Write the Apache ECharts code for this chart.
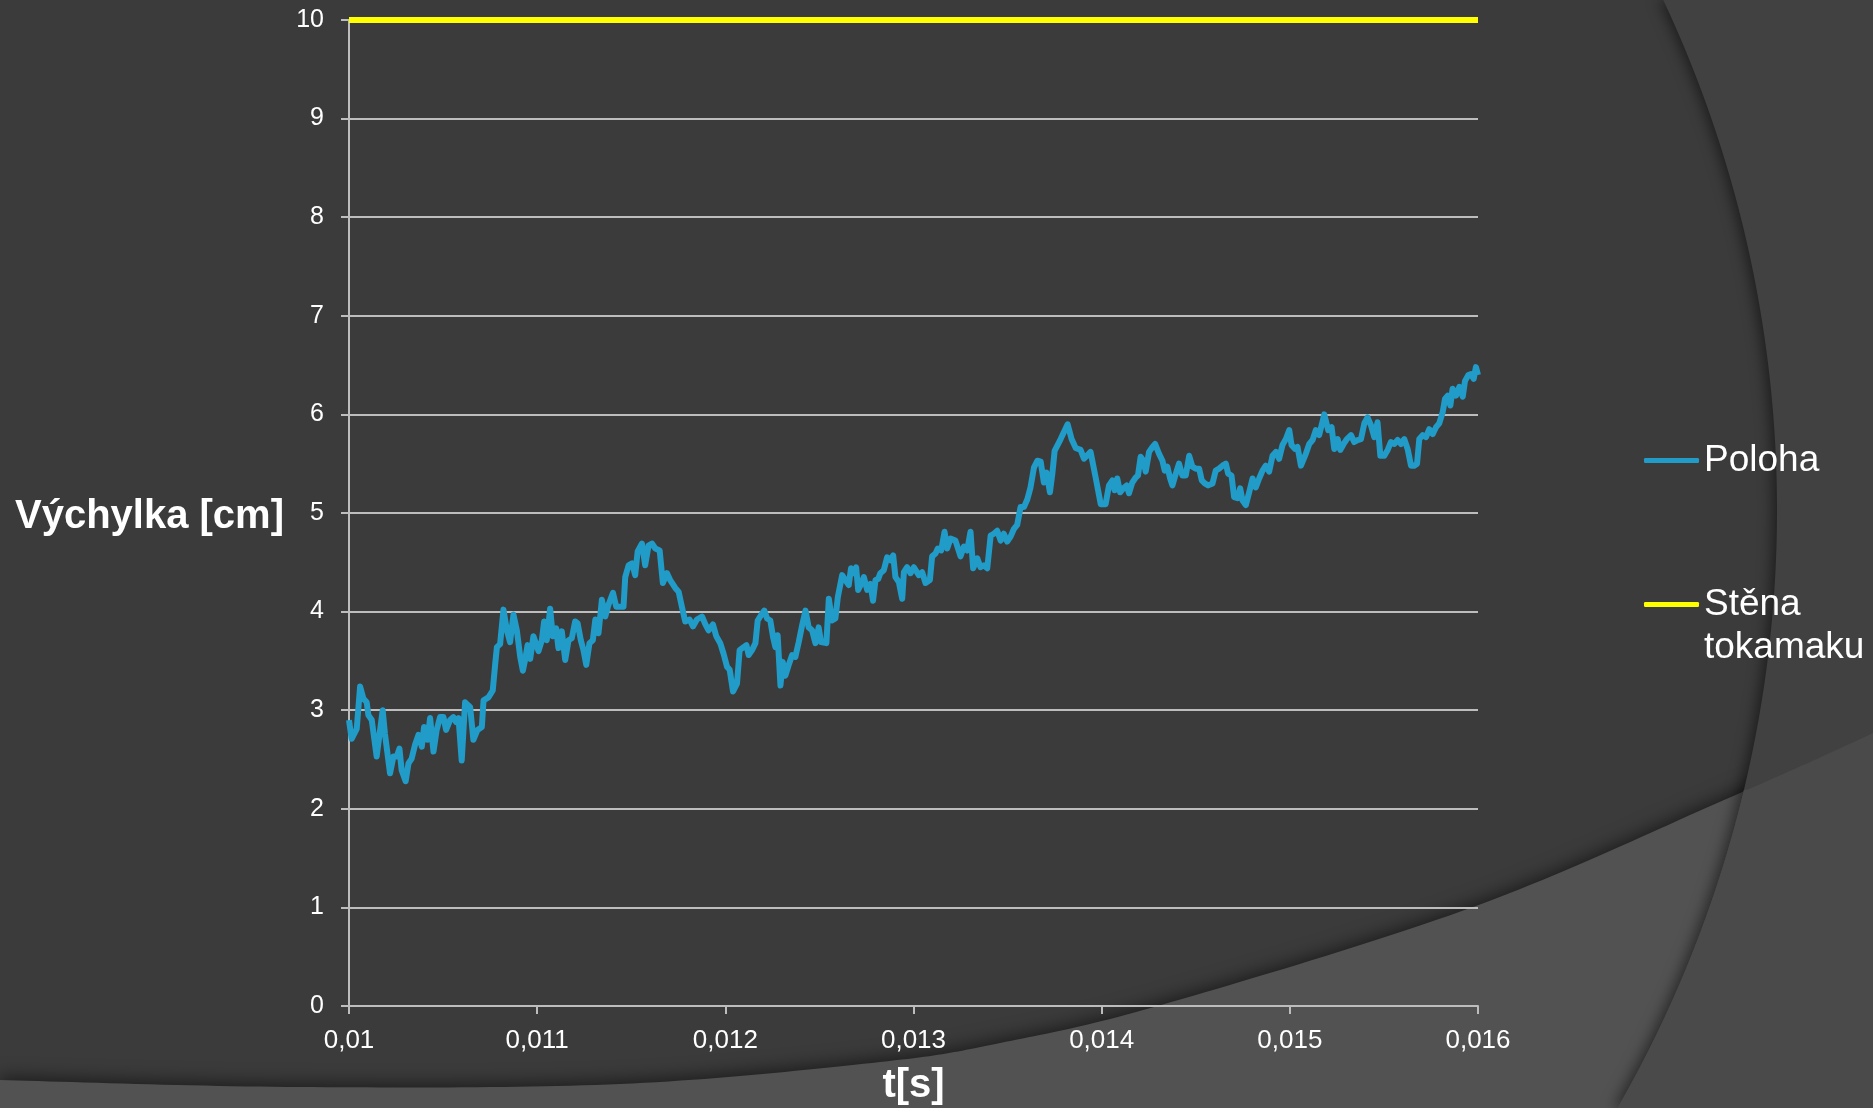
<!DOCTYPE html>
<html>
<head>
<meta charset="utf-8">
<script src="https://cdn.jsdelivr.net/npm/echarts@6/dist/echarts.min.js"></script>
<style>
html,body{margin:0;padding:0;background:#3b3b3b;}
#chart{width:1873px;height:1108px;}
</style>
</head>
<body>
<div id="chart"></div>
<script>
// ---- data ----
const timeS = [
0.010000,0.010014,0.010041,0.010059,0.010076,0.010094,0.010103,0.010121,0.010147,0.010179,
0.010191,0.010218,0.010236,0.010254,0.010268,0.010280,0.010301,0.010316,0.010333,0.010351,
0.010369,0.010387,0.010399,0.010417,0.010431,0.010449,0.010466,0.010484,0.010502,0.010516,
0.010537,0.010555,0.010569,0.010582,0.010599,0.010617,0.010644,0.010661,0.010683,0.010706,
0.010715,0.010741,0.010764,0.010777,0.010786,0.010803,0.010821,0.010839,0.010856,0.010874,
0.010892,0.010910,0.010924,0.010936,0.010949,0.010963,
0.010980,0.011007,0.011025,0.011037,0.011051,0.011069,0.011083,0.011101,0.011113,0.011131,
0.011149,0.011167,0.011184,0.011202,0.011215,0.011232,0.011246,0.011261,0.011278,0.011296,
0.011309,0.011326,0.011344,0.011362,0.011379,0.011403,0.011420,0.011441,0.011459,0.011468,
0.011486,0.011504,0.011521,0.011534,0.011557,0.011574,0.011592,0.011610,0.011628,0.011651,
0.011668,0.011690,0.011707,0.011734,0.011752,0.011769,0.011787,0.011810,0.011828,0.011849,
0.011876,0.011894,0.011911,0.011934,0.011952,
0.011973,0.011991,0.012009,0.012023,0.012041,0.012062,0.012076,0.012097,0.012112,0.012124,
0.012142,0.012160,0.012172,0.012195,0.012207,0.012222,0.012239,0.012254,0.012266,0.012278,
0.012293,0.012305,0.012319,0.012337,0.012355,0.012372,0.012390,0.012408,0.012426,0.012443,
0.012461,0.012479,0.012496,0.012509,0.012537,0.012550,0.012567,0.012585,0.012598,0.012621,
0.012638,0.012656,0.012668,0.012683,0.012695,0.012706,0.012722,0.012736,0.012754,0.012771,
0.012785,0.012798,0.012812,0.012824,0.012842,0.012860,0.012878,0.012892,0.012904,0.012922,
0.012940,0.012949,0.012966,0.012984,0.013002,
0.013028,0.013046,0.013064,0.013087,0.013099,0.013117,0.013129,0.013147,0.013165,0.013179,
0.013197,0.013223,0.013250,0.013268,0.013285,0.013303,0.013317,0.013339,0.013356,0.013374,
0.013392,0.013410,0.013427,0.013445,0.013463,0.013480,0.013498,0.013516,0.013534,0.013551,
0.013569,0.013587,0.013605,0.013622,0.013640,0.013658,0.013676,0.013693,0.013707,0.013725,
0.013738,0.013750,0.013782,0.013819,0.013840,0.013862,0.013888,0.013906,0.013941,0.013968,
0.013995,
0.014021,0.014039,0.014057,0.014069,0.014083,0.014098,0.014115,0.014133,0.014145,0.014163,
0.014181,0.014193,0.014207,0.014222,0.014234,0.014252,0.014270,0.014284,0.014305,0.014323,
0.014335,0.014349,0.014364,0.014376,0.014394,0.014411,0.014429,0.014447,0.014465,0.014482,
0.014500,0.014518,0.014532,0.014548,0.014566,0.014589,0.014606,0.014624,0.014642,0.014660,
0.014672,0.014690,0.014704,0.014722,0.014736,0.014748,0.014766,0.014784,0.014802,0.014819,
0.014837,0.014855,0.014872,0.014890,0.014908,0.014926,0.014943,0.014961,0.014979,0.014997,
0.015009,0.015027,0.015041,0.015059,
0.015085,0.015103,0.015121,0.015138,0.015156,0.015183,0.015204,0.015222,0.015236,0.015254,
0.015268,0.015286,0.015303,0.015325,0.015342,0.015360,0.015378,0.015396,0.015413,0.015431,
0.015449,0.015466,0.015481,0.015502,0.015520,0.015537,0.015555,0.015573,0.015591,0.015608,
0.015626,0.015644,0.015661,0.015676,0.015688,0.015706,0.015724,0.015741,0.015759,0.015777,
0.015794,0.015812,0.015825,0.015839,0.015853,0.015865,0.015883,0.015901,0.015919,0.015931,
0.015949,0.015963,0.015977,0.015989,0.016000
];
const polohaCm = [
2.90,2.71,2.81,3.24,3.12,3.08,2.95,2.90,2.53,3.00,
2.76,2.36,2.53,2.53,2.61,2.39,2.28,2.46,2.51,2.65,
2.75,2.63,2.83,2.70,2.92,2.58,2.80,2.93,2.93,2.80,
2.90,2.93,2.88,2.92,2.49,3.08,3.03,2.70,2.80,2.83,
3.10,3.13,3.20,3.47,3.64,3.67,4.02,3.81,3.69,3.97,
3.81,3.54,3.40,3.51,3.66,3.52,
3.75,3.60,3.71,3.90,3.71,4.03,3.75,3.83,3.63,3.80,
3.51,3.71,3.73,3.90,3.88,3.71,3.61,3.46,3.68,3.71,
3.92,3.78,4.12,3.95,4.07,4.19,4.05,4.05,4.05,4.35,
4.47,4.49,4.37,4.61,4.69,4.47,4.67,4.69,4.64,4.62,
4.29,4.39,4.32,4.24,4.20,4.05,3.90,3.92,3.85,3.92,
3.95,3.87,3.81,3.87,3.75,
3.68,3.57,3.44,3.41,3.19,3.27,3.61,3.64,3.66,3.56,
3.61,3.68,3.91,3.98,4.01,3.93,3.91,3.74,3.64,3.76,
3.25,3.49,3.35,3.46,3.56,3.54,3.69,3.86,4.01,3.84,
3.81,3.68,3.84,3.69,3.68,4.13,3.91,3.93,4.15,4.37,
4.32,4.27,4.44,4.39,4.45,4.22,4.28,4.35,4.22,4.28,
4.11,4.32,4.33,4.39,4.42,4.55,4.52,4.57,4.35,4.30,
4.13,4.40,4.45,4.39,4.45,
4.37,4.40,4.29,4.32,4.56,4.59,4.64,4.62,4.81,4.64,
4.74,4.72,4.56,4.66,4.62,4.81,4.44,4.54,4.45,4.47,
4.44,4.77,4.79,4.82,4.72,4.79,4.71,4.76,4.84,4.88,
5.06,5.06,5.14,5.26,5.46,5.53,5.52,5.31,5.41,5.21,
5.40,5.63,5.75,5.90,5.75,5.66,5.64,5.55,5.62,5.36,
5.09,
5.09,5.28,5.33,5.23,5.35,5.21,5.25,5.28,5.20,5.31,
5.36,5.38,5.57,5.53,5.42,5.62,5.67,5.70,5.60,5.53,
5.43,5.47,5.35,5.28,5.40,5.50,5.38,5.38,5.58,5.47,
5.45,5.45,5.33,5.30,5.28,5.30,5.43,5.45,5.48,5.50,
5.40,5.38,5.16,5.15,5.25,5.13,5.08,5.21,5.35,5.26,
5.35,5.43,5.48,5.42,5.58,5.62,5.55,5.69,5.75,5.84,
5.69,5.65,5.67,5.48,
5.60,5.70,5.74,5.84,5.79,6.00,5.84,5.87,5.65,5.75,
5.64,5.70,5.75,5.79,5.72,5.74,5.75,5.91,5.97,5.89,
5.77,5.92,5.58,5.58,5.64,5.72,5.70,5.74,5.70,5.75,
5.65,5.48,5.48,5.50,5.75,5.79,5.77,5.85,5.80,5.87,
5.91,6.02,6.16,6.19,6.09,6.26,6.19,6.28,6.18,6.34,
6.40,6.41,6.36,6.48,6.40
];
const wallTimeS = [0.010, 0.016];
const wallCm = [10, 10];
const xTickLabels = ['0,01','0,011','0,012','0,013','0,014','0,015','0,016'];
const seriesNames = ['Poloha', 'Stěna tokamaku'];

// ---- decorative background (slide theme shapes) ----
const W = 1873, H = 1108;
const arcC = [577, 510], arcR = 1200;
function arcX(y){ return arcC[0] + Math.sqrt(arcR*arcR - (y-arcC[1])*(y-arcC[1])); }
const curveCtrl = [[-100,1076],[0,1080],[300,1087],[620,1084],[880,1062],[1000,1043],[1161,1005],[1473,907],[1724,800],[1873,733],[1980,680]];
function catmull(pts, steps){
  const out = [];
  for (let i = 1; i < pts.length - 2; i++) {
    const p0=pts[i-1],p1=pts[i],p2=pts[i+1],p3=pts[i+2];
    for (let s = 0; s < steps; s++) {
      const t = s/steps, t2=t*t, t3=t2*t;
      const f = k => 0.5*((2*p1[k]) + (-p0[k]+p2[k])*t + (2*p0[k]-5*p1[k]+4*p2[k]-p3[k])*t2 + (-p0[k]+3*p1[k]-3*p2[k]+p3[k])*t3);
      out.push([f(0), f(1)]);
    }
  }
  out.push(pts[pts.length-2].slice());
  return out;
}
const curve = catmull(curveCtrl, 24);
const bottomPoly = curve.concat([[W, H], [0, H]]);
const arcPts = [];
for (let y = 0; y <= H; y += 6) arcPts.push([arcX(y), y]);
arcPts.push([arcX(H), H]);
const rightPoly = arcPts.concat([[W+20, H], [W+20, 0]]);
const curveRight = curve.filter(p => p[0] >= arcX(p[1]));
const yInt = curveRight.length ? curveRight[0][1] : H;
const arcLower = [];
for (let y = H; y >= yInt; y -= 6) arcLower.push([arcX(y), y]);
const interPoly = curveRight.concat([[W+20, curveRight.length ? curveRight[curveRight.length-1][1] : H], [W+20, H]]).concat(arcLower);

const FONT = 'Liberation Sans, Arial, sans-serif';
const AX = '#bdbdbd';

const chart = echarts.init(document.getElementById('chart'), null, {renderer: 'canvas'});
chart.setOption({
  animation: false,
  backgroundColor: '#3b3b3b',
  graphic: { elements: [
    { type: 'polygon', z: -10, silent: true, shape: { points: bottomPoly },
      style: { fill: '#525252', shadowBlur: 18, shadowColor: 'rgba(0,0,0,0.55)', shadowOffsetY: -3 } },
    { type: 'polygon', z: -10, silent: true, shape: { points: rightPoly },
      style: { fill: '#414141', shadowBlur: 14, shadowColor: 'rgba(0,0,0,0.5)', shadowOffsetX: -4 } },
    { type: 'polygon', z: -10, silent: true, shape: { points: interPoly },
      style: { fill: '#4a4a4a' } }
  ]},
  grid: { left: 349, right: 395, top: 20, bottom: 102, containLabel: false, outerBoundsMode: 'none' },
  legend: [
    { data: [seriesNames[0]], orient: 'vertical', left: 1644, top: 442, padding: 0,
      icon: 'roundRect', itemWidth: 55, itemHeight: 5, selectedMode: false,
      textStyle: { color: '#ffffff', fontSize: 37, fontFamily: FONT } },
    { data: [seriesNames[1]], orient: 'vertical', left: 1644, top: 540, padding: 0,
      icon: 'roundRect', itemWidth: 55, itemHeight: 5, selectedMode: false,
      formatter: '\u00a0\nStěna\ntokamaku',
      textStyle: { color: '#ffffff', fontSize: 37, fontFamily: FONT, lineHeight: 43 } }
  ],
  xAxis: {
    type: 'value', min: 0.01, max: 0.016, interval: 0.001,
    name: 't[s]', nameLocation: 'middle', nameGap: 60,
    nameTextStyle: { color: '#ffffff', fontSize: 40, fontWeight: 'bold', fontFamily: FONT },
    axisLine: { show: true, onZero: false, lineStyle: { color: AX, width: 2 } },
    axisTick: { show: true, length: 8, inside: false, lineStyle: { color: AX, width: 2 } },
    axisLabel: { color: '#ffffff', fontSize: 26, fontFamily: FONT, margin: 22,
      formatter: v => xTickLabels[Math.round((v - 0.01) / 0.001)] },
    splitLine: { show: false }
  },
  yAxis: {
    type: 'value', min: 0, max: 10, interval: 1,
    name: 'Výchylka [cm]', nameLocation: 'middle', nameRotate: 0, nameGap: 65,
    nameTextStyle: { color: '#ffffff', fontSize: 40, fontWeight: 'bold', fontFamily: FONT, align: 'right', verticalAlign: 'top', lineHeight: 8 },
    axisLine: { show: true, lineStyle: { color: AX, width: 2 } },
    axisTick: { show: true, length: 8, inside: false, lineStyle: { color: AX, width: 2 } },
    axisLabel: { color: '#ffffff', fontSize: 25, fontFamily: FONT, margin: 25 },
    splitLine: { show: true, lineStyle: { color: AX, width: 2 } }
  },
  series: [
    { name: seriesNames[0], type: 'line', symbol: 'none', showSymbol: false,
      data: timeS.map((t, i) => [t, polohaCm[i]]),
      lineStyle: { color: '#219bc8', width: 6, join: 'round' }, itemStyle: { color: '#219bc8' }, z: 3 },
    { name: seriesNames[1], type: 'line', symbol: 'none', showSymbol: false, clip: false,
      data: wallTimeS.map((t, i) => [t, wallCm[i]]),
      lineStyle: { color: '#ffff00', width: 6 }, itemStyle: { color: '#ffff00' }, z: 4 }
  ]
});
</script>
</body>
</html>
